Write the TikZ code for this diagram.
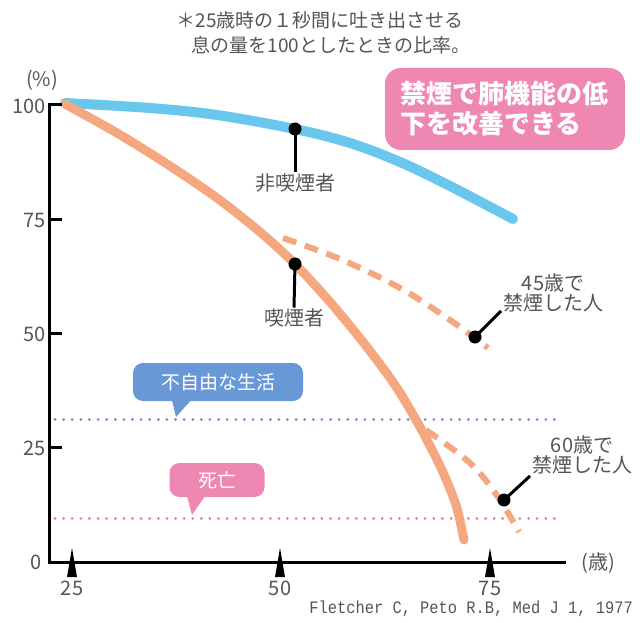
\documentclass[tikz,border=0pt]{standalone}
\usepackage{fontspec}
\setmainfont{Noto Sans CJK JP}
\newfontfamily\refmono[FakeStretch=0.88]{Liberation Mono}
\usetikzlibrary{calc}
\definecolor{nsblue}{RGB}{105,198,236}
\definecolor{smorange}{RGB}{245,168,128}
\definecolor{msgpink}{RGB}{238,135,178}
\definecolor{calblue}{RGB}{105,152,214}
\definecolor{dotblue}{RGB}{110,140,200}
\definecolor{dotpink}{RGB}{226,125,170}
\definecolor{txtgray}{RGB}{85,85,85}
\newcommand\fsz[1]{\fontsize{#1pt}{#1pt}\selectfont}
\tikzset{
  curveline/.style={line width=10pt, line cap=round},
  dashcurve/.style={line width=6pt, smorange, dash pattern=on 14pt off 9pt},
  dotline/.style={line width=3pt, dash pattern=on 0.01pt off 8.6pt, line cap=round},
  marker/.style={circle, fill=black, inner sep=0pt, minimum size=13pt},
  stem/.style={line width=3pt, black},
  lbl/.style={text=txtgray, font=\fsz{20}, inner sep=1pt},
  axlbl/.style={text=txtgray, font=\fsz{20}, inner sep=1pt},
  axisline/.style={line width=3pt, black},
  callout/.style={rounded corners=10pt, text=white, font=\fsz{19}, inner sep=0pt}
}
\begin{document}
\begin{tikzpicture}[x=1pt,y=-1pt]
\useasboundingbox (0,0) rectangle (640,623);
\fill[white] (0,0) rectangle (640,623);

% title
\node[lbl, font=\fsz{19}] (t1) at (320,20) {＊25歳時の１秒間に吐き出させる};
\node[lbl, font=\fsz{19}] (t2) at (331,45) {息の量を100としたときの比率。};

% message box
\node[fill=msgpink, rounded corners=16pt, text=white, font=\fsz{26}\bfseries,
      align=left, text width=210pt, inner xsep=15pt, minimum height=82pt]
      (msg) at (505,109) {禁煙で肺機能の低\\[4pt]下を改善できる};

% dotted reference lines
\coordinate (bl0) at (55,419); \coordinate (bl1) at (556,419);
\coordinate (pl0) at (55,518); \coordinate (pl1) at (560,518);
\draw[dotline, dotblue] (bl0) -- (bl1);
\draw[dotline, dotpink] (pl0) -- (pl1);

% callouts
\node[callout, fill=calblue, minimum width=170pt, minimum height=38pt] (cb) at (218,382) {不自由な生活};
\coordinate (cbtip) at (176,417);
\fill[calblue] ($(cb.south)+(-46,-1)$) -- (cbtip) -- ($(cb.south)+(-27,-1)$) -- cycle;
\node[callout, fill=msgpink, minimum width=95pt, minimum height=34pt] (cp) at (217,480) {死亡};
\coordinate (cptip) at (192,515);
\fill[msgpink] ($(cp.south)+(-30,-1)$) -- (cptip) -- ($(cp.south)+(-12,-1)$) -- cycle;

% curves
\draw[curveline, nsblue] plot[smooth, tension=0.55] coordinates
  {(65,103) (150,108) (217,115) (295,129) (350,143) (400,162) (450,186) (513,219)};
\draw[curveline, smorange, line width=9pt] plot[smooth, tension=0.5] coordinates
  {(65,104) (117,133) (167,164) (217,198) (260,232) (295,264) (330,302) (363,342) (395,385) (420,427) (441,468) (456,505) (464,540)};
\draw[dashcurve] plot[smooth, tension=0.6] coordinates
  {(283,238) (340,259) (400,288) (450,320) (488,348)};
\draw[dashcurve] plot[smooth, tension=0.6] coordinates
  {(426,430) (470,463) (498,497) (519,532)};

% axes
\coordinate (o) at (49,562);
\coordinate (ytop) at (49,103);
\coordinate (xend) at (566,562);
\draw[axisline] (ytop) -- (o) -- (xend);
\foreach \yy in {105,219,333,447} {\draw[axisline] (49,\yy) -- (62,\yy);}
\node[axlbl, anchor=east] (y100) at (47,106) {100};
\node[axlbl, anchor=east] (y75) at (47,220) {75};
\node[axlbl, anchor=east] (y50) at (47,334) {50};
\node[axlbl, anchor=east] (y25) at (47,448) {25};
\node[axlbl, anchor=east] (y0) at (43,562) {0};
\node[axlbl] (pct) at (42,80) {(\%)};
\node[axlbl] (age) at (598,563) {(歳)};
\foreach \xx/\lab in {72/25,280/50,490/75} {
  \fill[black] (\xx-5,577) -- (\xx,548) -- (\xx+5,577) -- cycle;
  \node[axlbl] (x\lab) at (\xx,588) {\lab};
}
\node[text=txtgray, font=\refmono\fsz{17.5}, anchor=east, inner sep=0pt] (ref) at (633,609) {Fletcher C, Peto R.B, Med J 1, 1977};

% markers
\node[marker] (m1) at (295,129) {};
\node[lbl] (l1) at (295,183) {非喫煙者};
\draw[stem] (m1.center) -- (l1.north);

\node[marker] (m2) at (295,264) {};
\node[lbl] (l2) at (294,318) {喫煙者};
\draw[stem] (m2.center) -- (l2.north);

\node[marker] (m3) at (475,337) {};
\node[lbl, align=center] (l3) at (553,293) {45歳で\\禁煙した人};
\coordinate (s3) at (501,311);
\draw[stem] (m3.center) -- (s3);

\node[marker] (m4) at (504,500) {};
\node[lbl, align=center] (l4) at (582,455) {60歳で\\禁煙した人};
\coordinate (s4) at (530,476);
\draw[stem] (m4.center) -- (s4);
\end{tikzpicture}
\end{document}
